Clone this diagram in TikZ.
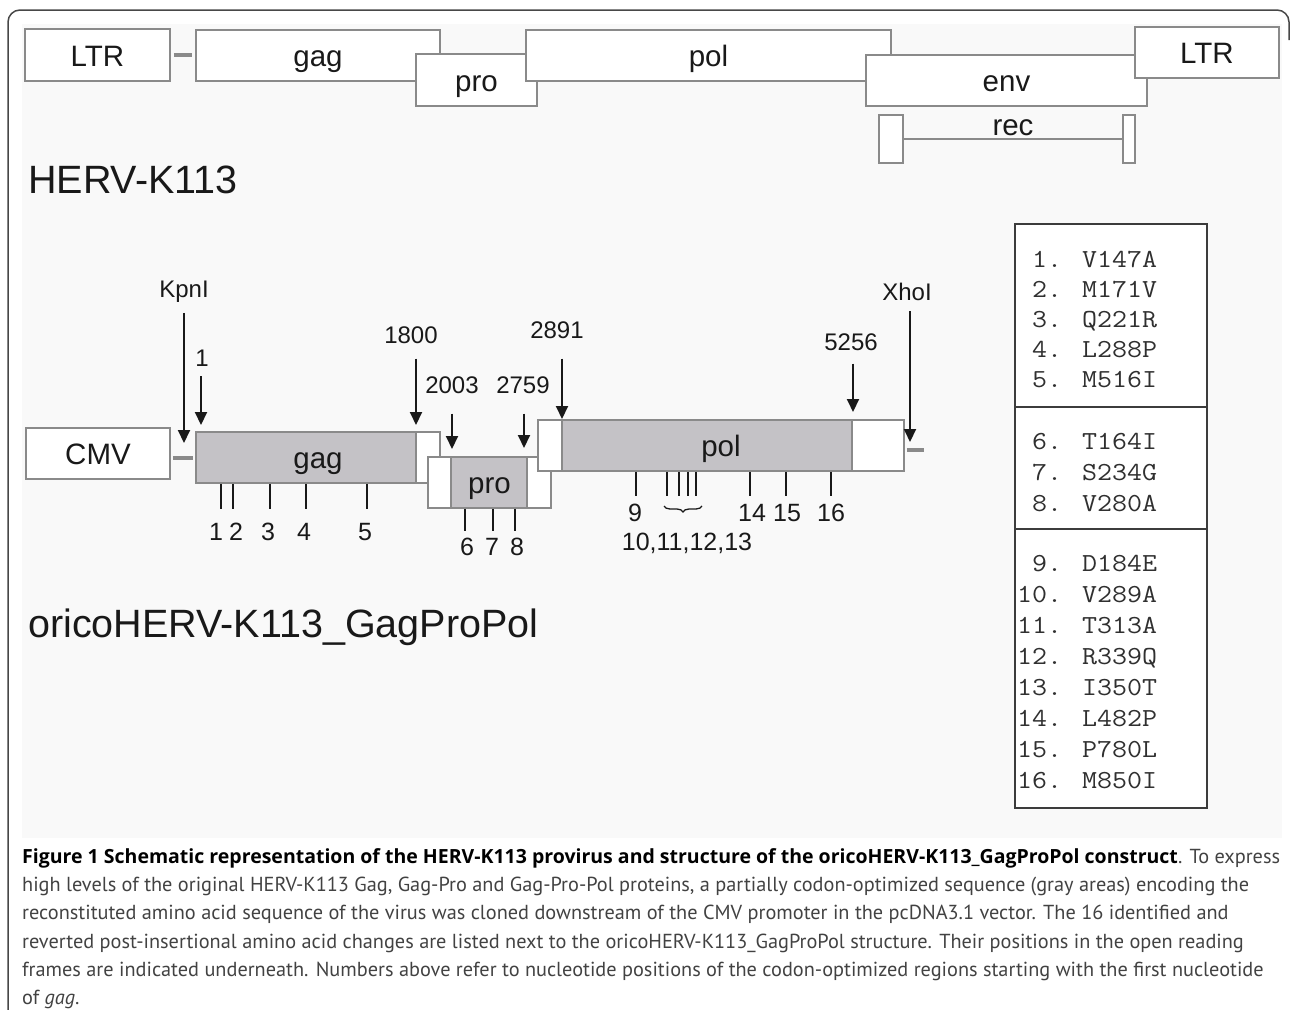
\documentclass[tikz,border=0pt]{standalone}
\usepackage{fontspec}
\setmainfont{Liberation Sans}
\newfontfamily\codefont{Latin Modern Mono}[FakeStretch=1.12]
\newfontfamily\capfont{PT Sans}
\newfontfamily\capboldfont{Open Sans}
\usetikzlibrary{arrows.meta,decorations.pathreplacing}
\definecolor{boxline}{RGB}{138,138,138}
\definecolor{cofill}{RGB}{196,194,198}
\definecolor{ink}{RGB}{25,25,25}
\definecolor{captext}{RGB}{66,66,66}
\definecolor{figbg}{RGB}{249,249,249}

\begin{document}
\begin{tikzpicture}[x=1pt,y=-1pt,
  gene/.style={draw=boxline,line width=1.6pt,fill=white,inner sep=0pt,
    text height=22pt,text depth=0pt,text=ink,font=\fontsize{29.5}{29.5}\selectfont},
  cod/.style={draw=boxline,line width=1.6pt,fill=cofill},
  coded/.style 2 args={path picture={\draw[cod]
    ([xshift=#1]path picture bounding box.north west) rectangle
    ([xshift=-#2]path picture bounding box.south east);}},
  link/.style={draw=boxline,line width=4pt},
  title/.style={anchor=base west,inner sep=0pt,text=ink,font=\fontsize{39.5}{39.5}\selectfont},
  ntlab/.style={font=\fontsize{24}{24}\selectfont,text=ink,inner sep=0pt},
  mut/.style={font=\fontsize{25}{25}\selectfont,text=ink,inner sep=0pt},
  arr/.style={-{Triangle[width=12pt,length=13pt]},line width=2pt,draw=ink},
  tick/.style={line width=1.5pt,draw=ink},
  row/.style={anchor=west,inner sep=0pt,text=ink!90,text height=16pt,text depth=0pt,
    font=\codefont\fontsize{26}{26}\selectfont}]
\useasboundingbox (0,0) rectangle (1290,1009);
\fill[figbg] (22,24) rectangle (1282,838);
\draw[line width=1.5pt,draw=ink!80,rounded corners=12pt] (8,1012) -- (8,10) -- (1289,10) -- (1289,40);

% provirus
\node[gene,minimum width=145pt,minimum height=52pt] (ltrA) at (97.5,55) {LTR};
\node[gene,minimum width=244pt,minimum height=51pt] (gagA) at (318,55.5) {gag};
\node[gene,minimum width=121pt,minimum height=52pt] (proA) at (476.5,80) {pro};
\node[gene,minimum width=365pt,minimum height=51pt] (polA) at (708.5,55.5) {pol};
\node[gene,minimum width=281pt,minimum height=51pt] (envA) at (1006.5,80.5) {env};
\node[gene,minimum width=144pt,minimum height=51pt] (ltrB) at (1207,52.5) {LTR};
\node[gene,minimum width=24pt,minimum height=48pt] (recA) at (891,139) {};
\node[gene,minimum width=12pt,minimum height=48pt] (recB) at (1129,139) {};
\node[gene,draw=none,fill=none,anchor=base] (rec) at (1013,135) {rec};
\draw[link,shorten <=3pt,shorten >=3pt] (ltrA.east) -- (gagA.west |- ltrA.east);
\draw[draw=boxline,line width=2.5pt] (recA.east) -- (recB.west);
\node[title] (herv) at (28,193) {HERV-K113};

% construct
\node[gene,minimum width=144pt,minimum height=51pt] (cmv) at (98,453.5) {CMV};
\node[gene,coded={0pt}{24pt},minimum width=244pt,minimum height=51pt] (gag2) at (318,457.5) {gag};
\node[gene,coded={23pt}{24pt},minimum width=123pt,minimum height=51pt] (pro2) at (489.5,482.5) {pro};
\node[gene,coded={24pt}{52pt},minimum width=366pt,minimum height=51pt] (pol2) at (721,445.5) {pol};
\coordinate (xend) at (924,450);
\draw[link,shorten <=2pt,shorten >=2pt] (cmv.east |- gag2) -- (gag2.west);
\draw[link,shorten <=2pt] (pol2.east |- xend) -- (xend);

\foreach \n/\lx/\ly/\ax/\ay/\g in {KpnI/184/292/184/443/10, 1/202/358/201/425/10,
    1800/411/335/416/425/15, 2003/452/385/452/449/20, 2759/523/385/524/448/20,
    2891/557/330/562/419/20, 5256/851/342/853/412/13, XhoI/907/292/910/442/10} {
  \node[ntlab] (p\n) at (\lx,\ly) {\n};
  \coordinate (t\n) at (\ax,\ay);
  \draw[arr,shorten <=\g pt] (p\n.south -| t\n) -- (t\n);
}

\foreach \x/\n/\lx in {221/1/216, 233/2/236, 270/3/268, 306/4/304, 367/5/365} {
  \draw[tick] (gag2.south -| \x,0) -- ++(0,25);
  \node[mut] (m\n) at (\lx,532) {\n};
}
\foreach \x/\n/\lx in {465/6/467, 493/7/492, 515/8/517} {
  \draw[tick] (pro2.south -| \x,0) -- ++(0,22);
  \node[mut] (m\n) at (\lx,547) {\n};
}
\foreach \x/\n/\lx in {636/9/635, 750/14/752, 786/15/787, 831/16/831} {
  \draw[tick] (pol2.south -| \x,0) -- ++(0,24);
  \node[mut] (m\n) at (\lx,513) {\n};
}
\foreach \x in {667,679,688,696}
  \draw[tick] (pol2.south -| \x,0) -- ++(0,24);
\draw[decorate,decoration={brace,mirror,amplitude=6pt},line width=1.3pt,draw=ink] (664,506) -- (702,506);
\node[mut] (m10) at (687,543) {10,11,12,13};
\node[title] (orico) at (28,637) {oricoHERV-K113\_GagProPol};

% changes
\node[draw=ink!85,line width=1.5pt,fill=white,minimum width=192pt,minimum height=584pt] (tab) at (1111,516) {};
\draw[draw=ink!85,line width=1.5pt] (tab.west |- 0,407) -- (tab.east |- 0,407);
\draw[draw=ink!85,line width=1.5pt] (tab.west |- 0,529) -- (tab.east |- 0,529);
\foreach \y/\t in {259/\hphantom{1}1. V147A, 289/\hphantom{1}2. M171V, 319/\hphantom{1}3. Q221R,
    349/\hphantom{1}4. L288P, 379/\hphantom{1}5. M516I, 441/\hphantom{1}6. T164I,
    472/\hphantom{1}7. S234G, 503/\hphantom{1}8. V280A, 563/\hphantom{1}9. D184E,
    594/10. V289A, 625/11. T313A, 656/12. R339Q, 687/13. I350T, 718/14. L482P,
    749/15. P780L, 780/16. M850I}
  \node[row] at (1017,\y) {\t};

\node[anchor=north west,inner sep=0pt,align=left,text=captext,
  font=\capfont\fontsize{20.3}{28.3}\selectfont] (cap) at (22,848)
  {{\color{black}\capboldfont\bfseries\fontsize{19.5}{28.3}\selectfont Figure 1 Schematic representation of the HERV-K113 provirus and structure of the oricoHERV-K113\_GagProPol construct}. To express\\
  high levels of the original HERV-K113 Gag, Gag-Pro and Gag-Pro-Pol proteins, a partially codon-optimized sequence (gray areas) encoding the\\
  reconstituted amino acid sequence of the virus was cloned downstream of the CMV promoter in the pcDNA3.1 vector. The 16 identified and\\
  reverted post-insertional amino acid changes are listed next to the oricoHERV-K113\_GagProPol structure. Their positions in the open reading\\
  frames are indicated underneath. Numbers above refer to nucleotide positions of the codon-optimized regions starting with the first nucleotide\\
  of \textit{gag}.};
\end{tikzpicture}
\end{document}
